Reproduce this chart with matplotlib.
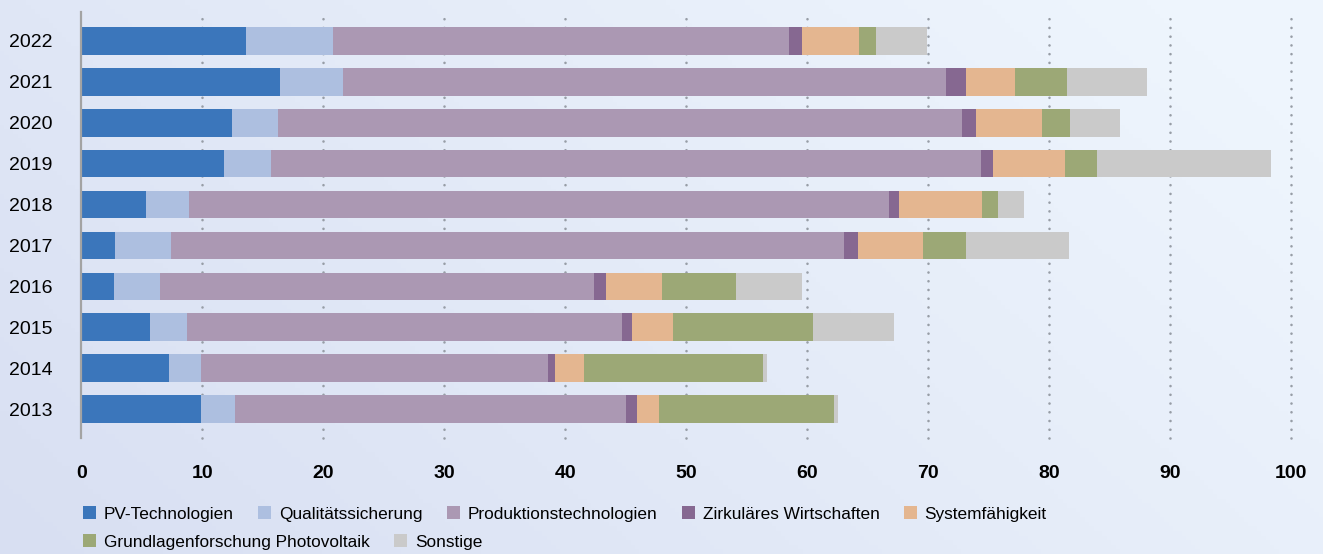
import numpy as np
import matplotlib
matplotlib.use("Agg")
import matplotlib.pyplot as plt
from matplotlib.colors import to_rgb

plt.rcParams['font.family'] = ['Liberation Sans', 'DejaVu Sans']

years = ['2013', '2014', '2015', '2016', '2017', '2018', '2019', '2020', '2021', '2022']

# Fördervolumen je Themenfeld
pv_tech = [9.89, 7.25, 5.68, 2.70, 2.79, 5.35, 11.79, 12.45, 16.42, 13.61]
qualitaet = [2.81, 2.64, 3.06, 3.80, 4.62, 3.55, 3.89, 3.81, 5.21, 7.19]
produktion = [32.32, 28.68, 35.95, 35.87, 55.62, 57.85, 58.67, 56.53, 49.83, 37.69]
zirkulaer = [0.91, 0.58, 0.82, 0.99, 1.16, 0.83, 0.99, 1.16, 1.65, 1.07]
system = [1.81, 2.40, 3.39, 4.63, 5.37, 6.85, 5.93, 5.45, 4.06, 4.71]
grundlagen = [14.46, 14.80, 11.57, 6.12, 3.55, 1.33, 2.65, 2.28, 4.27, 1.41]
sonstige = [0.33, 0.32, 6.69, 5.45, 8.49, 2.15, 14.38, 4.14, 6.61, 4.21]

series = [
    ("PV-Technologien", pv_tech, "#3b76bb"),
    ("Qualitätssicherung", qualitaet, "#adbfe0"),
    ("Produktionstechnologien", produktion, "#ab98b3"),
    ("Zirkuläres Wirtschaften", zirkulaer, "#866891"),
    ("Systemfähigkeit", system, "#e4b690"),
    ("Grundlagenforschung Photovoltaik", grundlagen, "#9ca876"),
    ("Sonstige", sonstige, "#cacaca"),
]

W, H = 1323, 554
fig = plt.figure(figsize=(W / 100, H / 100), dpi=100)

# background gradient
bg = fig.add_axes([0, 0, 1, 1], zorder=-10)
xx, yy = np.meshgrid(np.linspace(0, 1, 300), np.linspace(0, 1, 120))
t = np.clip(0.75 * xx + 0.35 * (1 - yy), 0, 1)
c0 = np.array(to_rgb("#d8dff2"))
c1 = np.array(to_rgb("#eef5fd"))
img = c0[None, None, :] * (1 - t[..., None]) + c1[None, None, :] * t[..., None]
bg.imshow(img, aspect="auto", extent=[0, 1, 0, 1], origin="upper")
bg.axis("off")

ax = fig.add_axes([81.3 / W, 1 - 438 / H, (1291.3 - 81.3) / W, (438 - 12) / H])
ax.patch.set_alpha(0)

y = np.arange(len(years))
left = np.zeros(len(years))
handles = []
for name, vals, col in series:
    b = ax.barh(y, vals, left=left, height=0.68, color=col, label=name, zorder=3)
    handles.append(b)
    left += np.array(vals)

ax.set_xlim(0, 100)
ax.set_ylim(-0.7, 9.7)
ax.set_xticks(range(0, 101, 10))
ax.set_yticks(y)
ax.set_yticklabels(years)

# dotted grid (round dots)
for xv in range(10, 101, 10):
    ax.axvline(xv, color="#979da6", lw=1.9, linestyle=(0, (0.01, 3.3)),
               dash_capstyle="round", zorder=1, clip_on=False)

for s in ["top", "right", "bottom"]:
    ax.spines[s].set_visible(False)
ax.spines["left"].set_color("#a3a3a3")
ax.spines["left"].set_linewidth(1.6)
ax.spines["left"].set_zorder(4)

ax.tick_params(axis="x", length=0, pad=19.5, labelsize=14)
ax.tick_params(axis="y", length=0, pad=21, labelsize=14)
for lab in ax.get_xticklabels():
    lab.set_fontweight("bold")

leg_kw = dict(frameon=False, fontsize=12.4, handlelength=0.75, handleheight=0.75,
              handletextpad=0.47, columnspacing=1.4, borderpad=0,
              borderaxespad=0, loc="center left")
fig.legend(handles[:5], [s[0] for s in series[:5]], ncol=5,
           bbox_to_anchor=(83 / W, 1 - 514 / H), **leg_kw)
fig.legend(handles[5:], [s[0] for s in series[5:]], ncol=2,
           bbox_to_anchor=(83 / W, 1 - 542 / H), **leg_kw)

fig.savefig("out.png", dpi=100)
